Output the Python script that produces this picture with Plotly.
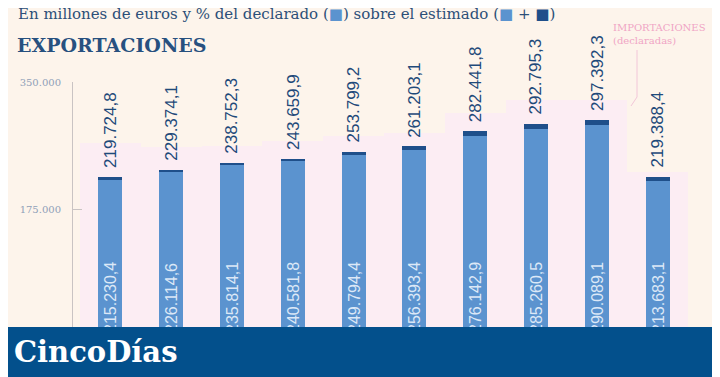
import plotly.graph_objects as go

# ---- data ----
declared = [215230.4, 226114.6, 235814.1, 240581.8, 249794.4,
            256393.4, 276142.9, 285260.5, 290089.1, 213683.1]
estimated = [219724.8, 229374.1, 238752.3, 243659.9, 253799.2,
             261203.1, 282441.8, 292795.3, 297392.3, 219388.4]
imports_declared = [266000, 260000, 262000, 269000, 276000,
                    280000, 307000, 325000, 325000, 226000]
tick_vals = [175000, 350000]
tick_text = ["175.000", "350.000"]

OFF = 8  # default page margin of the browser
W, H = 720 - OFF, 377 - OFF
ML, MT = 73 - OFF, 82 - OFF
MR = W - (688 - OFF)
MB = H - (336 - OFF)
PW, PH = W - ML - MR, H - MT - MB


def fmt(v):
    s = f"{v:,.1f}"
    return s.replace(",", "X").replace(".", ",").replace("X", ".")


def px(x):  # page pixel -> paper
    return (x - OFF - ML) / PW


def py(y):
    return (H - MB - (y - OFF)) / PH


cats = list(range(len(declared)))
diff = [e - d for e, d in zip(estimated, declared)]

BG = "#fdf4eb"
PINK = "#fcedf3"
LIGHT = "#5b93cf"
DARK = "#1f4f8a"
LABEL = "#1f4a7a"

fig = go.Figure()
fig.add_bar(x=cats, y=imports_declared, width=1.0, marker_color=PINK,
            marker_line_width=0, hoverinfo="skip", showlegend=False)
fig.add_bar(x=cats, y=declared, width=0.395, marker_color=LIGHT,
            marker_line_width=0, showlegend=False,
            text=[fmt(v) for v in declared], textposition="inside",
            insidetextanchor="start", textangle=-90, constraintext="none",
            textfont=dict(family="Liberation Sans, Arial", size=16,
                          color="#dce8f7"))
fig.add_bar(x=cats, y=diff, base=declared, width=0.395, marker_color=DARK,
            marker_line_width=0, showlegend=False)

annotations = []
for c, e in zip(cats, estimated):
    annotations.append(dict(
        x=c, y=e, xref="x", yref="y", text=fmt(e), showarrow=False,
        textangle=-90, xanchor="center", yanchor="bottom", yshift=7,
        font=dict(family="Liberation Sans, Arial", size=17, color=LABEL)))

sq_l = f"<span style='color:{LIGHT}'>■</span>"
sq_d = f"<span style='color:{DARK}'>■</span>"
annotations += [
    dict(x=px(16), y=py(14), xref="paper", yref="paper", xanchor="left",
         yanchor="middle", showarrow=False,
         text=f"En millones de euros y % del declarado ({sq_l}) sobre el estimado ({sq_l} + {sq_d})",
         font=dict(family="DejaVu Serif", size=15, color="#2c4f78")),
    dict(x=px(15), y=py(45), xref="paper", yref="paper", xanchor="left",
         yanchor="middle", showarrow=False, text="<b>EXPORTACIONES</b>",
         font=dict(family="DejaVu Serif", size=19, color="#27507f")),
    dict(x=px(611), y=py(34), xref="paper", yref="paper", xanchor="left",
         yanchor="middle", showarrow=False, align="left",
         text="IMPORTACIONES<br>(declaradas)",
         font=dict(family="DejaVu Serif", size=10, color="#f0a5c5")),
    dict(x=px(12), y=py(352), xref="paper", yref="paper", xanchor="left",
         yanchor="middle", showarrow=False, text="<b>CincoDías</b>",
         font=dict(family="DejaVu Serif", size=29, color="white")),
]

shapes = [
    dict(type="rect", xref="paper", yref="paper", x0=-0.2, x1=1.2,
         y0=py(327), y1=py(390), fillcolor="#03508c", line_width=0,
         layer="above"),
    dict(type="path", xref="paper", yref="paper",
         path=f"M {px(637)} {py(50)} L {px(637)} {py(97)} L {px(631)} {py(106)}",
         line=dict(color="#f2c6d8", width=1)),
]

fig.update_layout(
    width=W, height=H, barmode="overlay", bargap=0,
    margin=dict(l=ML, r=MR, t=MT, b=MB, pad=0),
    paper_bgcolor=BG, plot_bgcolor=BG,
    annotations=annotations, shapes=shapes,
    xaxis=dict(range=[-0.615, 9.5], visible=False, fixedrange=True),
    yaxis=dict(range=[0, 350000], tickvals=tick_vals, ticktext=tick_text,
               showgrid=False, zeroline=False, showline=True,
               linecolor="#c9c3c3", linewidth=1, ticks="inside", ticklen=9,
               tickcolor="#c9c3c3", ticklabelstandoff=9,
               tickfont=dict(family="DejaVu Serif", size=10, color="#8fa0b8")),
)

fig.write_html("out.html")
